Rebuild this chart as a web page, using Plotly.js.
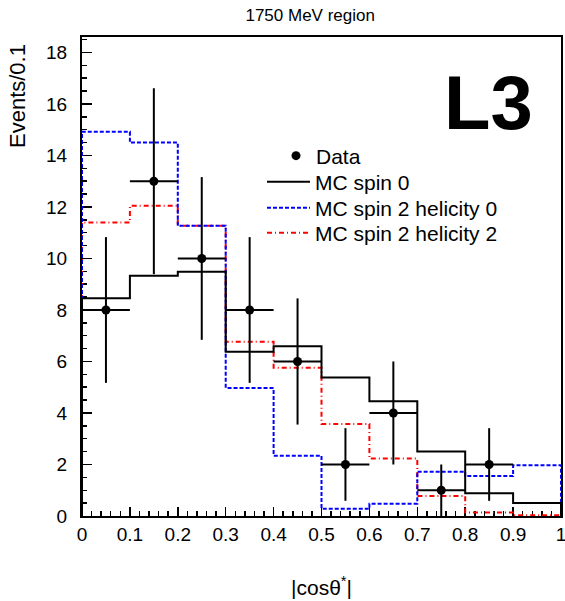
<!DOCTYPE html>
<html>
<head>
<meta charset="utf-8">
<script src="https://cdn.plot.ly/plotly-3.0.1.min.js"></script>
<style>html,body{margin:0;padding:0;background:#fff;}#chart{width:565px;height:601px;}</style>
</head>
<body>
<div id="chart"></div>
<script>
// bin edges of |cos theta*|
const binEdges = [0, 0.1, 0.2, 0.3, 0.4, 0.5, 0.6, 0.7, 0.8, 0.9, 1.0];
const xTickLabels = ['0', '0.1', '0.2', '0.3', '0.4', '0.5', '0.6', '0.7', '0.8', '0.9', '1'];
// data points (bin centres, counts, errors)
const dataX = [0.05, 0.15, 0.25, 0.35, 0.45, 0.55, 0.65, 0.75, 0.85];
const dataY = [8, 13, 10, 8, 6, 2, 4, 1, 2];
const dataErr = [2.83, 3.61, 3.16, 2.83, 2.45, 1.41, 2.0, 1.0, 1.41];
const dataXErr = [0.05, 0.05, 0.05, 0.05, 0.05, 0.05, 0.05, 0.05, 0.05];
// MC histograms (per bin)
const mcSpin0 = [8.46, 9.33, 9.48, 6.38, 6.59, 5.38, 4.46, 2.50, 0.88, 0.50];
const mcSpin2Hel0 = [14.92, 14.50, 11.27, 4.97, 2.34, 0.28, 0.48, 1.72, 1.55, 1.97];
const mcSpin2Hel2 = [11.40, 12.05, 11.27, 6.77, 5.76, 3.57, 2.23, 0.78, 0.14, 0.03];

function stepXY(vals) {
  const xs = [binEdges[0]];
  const ys = [0];
  for (let i = 0; i < vals.length; i++) { xs.push(binEdges[i]); ys.push(vals[i]); }
  xs.push(binEdges[binEdges.length - 1]); ys.push(vals[vals.length - 1]);
  xs.push(binEdges[binEdges.length - 1]); ys.push(0);
  return {x: xs, y: ys};
}

const s0 = stepXY(mcSpin0), s20 = stepXY(mcSpin2Hel0), s22 = stepXY(mcSpin2Hel2);
const FONT = 'Liberation Sans, Arial, Helvetica, sans-serif';

const traces = [
  {x: s22.x, y: s22.y, type: 'scatter', mode: 'lines', name: 'MC spin 2 helicity 2',
   line: {shape: 'hv', color: '#ff0000', width: 2, dash: '5px,3px,1px,3px'}, legend: 'legend4'},
  {x: s20.x, y: s20.y, type: 'scatter', mode: 'lines', name: 'MC spin 2 helicity 0',
   line: {shape: 'hv', color: '#0000ff', width: 2, dash: '4px,2px'}, legend: 'legend3'},
  {x: s0.x, y: s0.y, type: 'scatter', mode: 'lines', name: 'MC spin 0',
   line: {shape: 'hv', color: '#000000', width: 2}, legend: 'legend2'},
  {x: dataX, y: dataY, type: 'scatter', mode: 'markers', name: 'Data',
   marker: {color: '#000', size: 9, symbol: 'circle'},
   error_y: {type: 'data', array: dataErr, visible: true, width: 0, thickness: 2, color: '#000'},
   error_x: {type: 'data', array: dataXErr, visible: true, width: 0, thickness: 2, color: '#000'},
   legend: 'legend'}
];

const L = 82, R = 561, T = 37, B = 516;
const H = B - T, W = R - L;
function py(p) { return (B - p) / H; }
function px(p) { return (p - L) / W; }

const legCommon = {xanchor: 'left', yanchor: 'middle', bgcolor: 'rgba(0,0,0,0)', borderwidth: 0,
  font: {family: FONT, size: 21, color: '#000'}, itemwidth: 43};

const layout = {
  width: 565, height: 601,
  margin: {l: L, r: 565 - R, t: T, b: 601 - B},
  paper_bgcolor: '#fff', plot_bgcolor: '#fff',
  showlegend: true,
  title: {text: '1750 MeV region', font: {family: FONT, size: 17, color: '#000'},
          x: 0.549, xref: 'container', xanchor: 'center', y: 1 - 15 / 601, yref: 'container', yanchor: 'middle'},
  xaxis: {range: [0, 1], tickmode: 'array', tickvals: binEdges, ticktext: xTickLabels,
          ticks: 'inside', ticklen: 9, tickwidth: 1.5, tickcolor: '#000', ticklabeloverflow: 'allow',
          minor: {dtick: 0.02, tick0: 0, ticks: 'inside', ticklen: 5, tickwidth: 1.5, tickcolor: '#000'},
          showline: true, linecolor: '#000', linewidth: 2, mirror: true, showgrid: false, zeroline: false,
          tickfont: {family: FONT, size: 19, color: '#000'}, layer: 'below traces', fixedrange: true},
  yaxis: {range: [0, 18.6], dtick: 2, tick0: 0, ticks: 'inside', ticklen: 10, tickwidth: 1.5, tickcolor: '#000',
          minor: {dtick: 0.5, ticks: 'inside', ticklen: 5, tickwidth: 1.5, tickcolor: '#000'},
          showline: true, linecolor: '#000', linewidth: 2, mirror: true, showgrid: false, zeroline: false,
          tickfont: {family: FONT, size: 19, color: '#000'}, layer: 'below traces', fixedrange: true,
          ticklabelstandoff: 9},
  legend: Object.assign({}, legCommon, {x: px(276), y: py(156), itemwidth: 30}),
  legend2: Object.assign({}, legCommon, {x: px(262), y: py(182)}),
  legend3: Object.assign({}, legCommon, {x: px(262), y: py(208)}),
  legend4: Object.assign({}, legCommon, {x: px(262), y: py(233)}),
  annotations: [
    {text: '<b>L3</b>', xref: 'paper', yref: 'paper', x: px(488), y: py(102), xanchor: 'center', yanchor: 'middle',
     showarrow: false, font: {family: FONT, size: 76, color: '#000'}},
    {text: 'Events/0.1', xref: 'paper', yref: 'paper', x: px(17), y: py(96), xanchor: 'center', yanchor: 'middle',
     textangle: -90, showarrow: false, font: {family: FONT, size: 22, color: '#000'}},
    {text: '|cosθ<sup>*</sup>|', xref: 'paper', yref: 'paper', x: 0.5, y: py(586), xanchor: 'center', yanchor: 'middle',
     showarrow: false, font: {family: FONT, size: 21, color: '#000'}}
  ]
};

Plotly.newPlot('chart', traces, layout, {displayModeBar: false, staticPlot: true});
</script>
</body>
</html>
